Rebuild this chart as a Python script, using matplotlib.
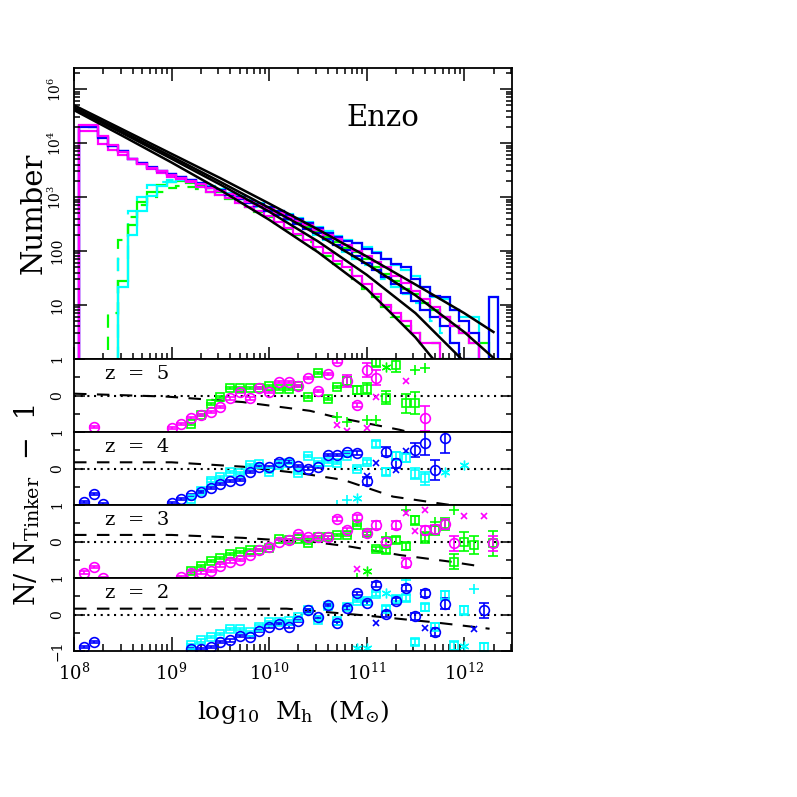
import numpy as np
import matplotlib
matplotlib.use('Agg')
import matplotlib.pyplot as plt
from matplotlib.ticker import FixedLocator, NullFormatter, FixedFormatter, LogLocator

plt.rcParams['font.family'] = ['DejaVu Serif']
plt.rcParams['mathtext.fontset'] = 'dejavuserif'

MAG, GRN, BLU, CYN = '#ff00ff', '#00ff00', '#0000ff', '#00ffff'

# ---------------- top panel data ----------------
bin_centers = [8.1, 8.2, 8.3, 8.4, 8.5, 8.6, 8.7, 8.8, 8.9, 9.0,
               9.1, 9.2, 9.3, 9.4, 9.5, 9.6, 9.7, 9.8, 9.9, 10.0,
               10.1, 10.2, 10.3, 10.4, 10.5, 10.6, 10.7, 10.8, 10.9, 11.0,
               11.1, 11.2, 11.3, 11.4, 11.5, 11.6, 11.7, 11.8, 11.9, 12.0,
               12.1, 12.2, 12.3]

hist_m3 = [22000, 22000, 13500, 9100, 6900, 5000, 4100, 3500, 3000, 2600,
           2300, 2000, 1750, 1500, 1300, 1120, 960, 820, 700, 600,
           510, 430, 360, 300, 250, 200, 165, 130, 100, 80,
           62, 50, 35, 26, 18, 13, 9, 6, 4, 3, 2, 0, 0]
hist_b4 = [21000, 20000, 12500, 8700, 7200, 5100, 4200, 3500, 3100, 2650,
           2350, 2050, 1750, 1500, 1280, 1100, 930, 790, 670, 560,
           470, 390, 320, 260, 215, 170, 130, 105, 80, 60,
           45, 33, 24, 17, 12, 8, 6, 4, 2, 1, 0, 0, 0]
hist_b2 = [20000, 19500, 13000, 8800, 7000, 5100, 4200, 3600, 3100, 2700,
           2400, 2100, 1800, 1550, 1350, 1150, 990, 850, 740, 640,
           540, 460, 390, 330, 270, 220, 180, 155, 140, 110,
           92, 70, 58, 50, 30, 22, 15, 14, 8, 5, 3, 0, 14]
hist_m5 = [16500, 16500, 9800, 7400, 6000, 5000, 4100, 3300, 2750, 2400,
           2150, 1900, 1550, 1260, 1100, 950, 780, 660, 540, 440,
           350, 270, 210, 160, 120, 90, 65, 50, 35, 24,
           16, 10, 7, 5, 3, 2, 2, 0, 0, 0, 0, 0, 0]
hist_g5 = [0, 0, 0, 7, 160, 420, 700, 1000, 1250, 1500,
           1600, 1550, 1400, 1250, 1080, 920, 780, 640, 520, 420,
           330, 255, 200, 150, 110, 82, 58, 44, 30, 20,
           14, 9, 6, 4, 3, 2, 2, 1, 0, 0, 0, 0, 0]
hist_g3 = [0, 0, 0, 0, 28, 300, 800, 1250, 1700, 1900,
           2000, 1850, 1650, 1450, 1250, 1080, 930, 800, 680, 580,
           490, 410, 340, 280, 230, 180, 145, 115, 95, 70,
           50, 38, 28, 20, 16, 11, 8, 6, 4, 3, 2, 2, 0]
hist_c4 = [0, 0, 0, 0, 70, 550, 1000, 1650, 1900, 2100,
           2050, 1900, 1650, 1450, 1250, 1070, 910, 770, 650, 550,
           460, 380, 310, 250, 200, 160, 125, 95, 72, 54,
           40, 30, 22, 16, 11, 8, 5, 3, 2, 1, 1, 0, 0]
hist_c2 = [0, 0, 0, 0, 22, 200, 550, 1050, 1600, 1900,
           2100, 2000, 1800, 1600, 1400, 1200, 1030, 880, 760, 650,
           560, 480, 410, 340, 280, 230, 190, 160, 140, 120,
           95, 72, 55, 45, 35, 22, 14, 13, 8, 6, 6, 0, 14]

tink_logm = [8.0, 8.5, 9.0, 9.5, 10.0, 10.5, 11.0, 11.5, 12.0, 12.3]
tink_z2 = [4.70, 4.25, 3.80, 3.35, 2.88, 2.40, 1.90, 1.38, 0.85, 0.50]
tink_z3 = [4.66, 4.21, 3.75, 3.28, 2.80, 2.30, 1.76, 1.18, 0.50, 0.02]
tink_z4 = [4.64, 4.18, 3.71, 3.23, 2.73, 2.18, 1.56, 0.85, -0.05, -0.6]
tink_z5 = [4.61, 4.13, 3.64, 3.13, 2.58, 1.98, 1.30, 0.40, -0.7, -1.4]

# ---------------- residual panels data ----------------
dash_x = {5: [8.0, 8.95, 9.73, 10.42, 10.66, 11.0, 11.34, 11.5],
          4: [8.0, 9.0, 9.73, 10.32, 10.76, 11.27, 11.96],
          3: [8.0, 9.0, 9.73, 10.08, 10.42, 10.83, 11.34, 11.85, 12.19],
          2: [8.0, 9.0, 10.18, 10.4, 11.0, 11.68, 12.26]}
dash_y = {5: [0.05, -0.03, -0.18, -0.42, -0.58, -0.76, -0.94, -1.05],
          4: [0.17, 0.17, 0.05, -0.13, -0.31, -0.77, -1.04],
          3: [0.18, 0.18, 0.10, 0.04, 0.0, -0.14, -0.37, -0.55, -0.69],
          2: [0.16, 0.16, 0.16, 0.11, -0.03, -0.21, -0.39]}

circ_x = {5: [8.2, 9.0, 9.1, 9.2, 9.3, 9.4, 9.5, 9.6, 9.7, 9.8, 9.9, 10.0, 10.1, 10.2,
              10.3, 10.4, 10.5, 10.6, 10.7, 10.8, 10.9, 11.0, 11.1, 11.6],
          4: [8.1, 8.2, 8.3, 9.0, 9.1, 9.2, 9.3, 9.4, 9.5, 9.6, 9.7, 9.8, 9.9, 10.0,
              10.1, 10.2, 10.3, 10.4, 10.5, 10.6, 10.7, 10.8, 10.9, 11.0, 11.2, 11.3,
              11.5, 11.6, 11.7, 11.8],
          3: [8.1, 8.2, 8.3, 9.1, 9.2, 9.3, 9.4, 9.5, 9.6, 9.7, 9.8, 9.9, 10.0, 10.1,
              10.2, 10.3, 10.4, 10.5, 10.6, 10.7, 10.8, 10.9, 11.0, 11.1, 11.2, 11.3,
              11.4, 11.6, 11.7, 11.8, 11.9, 12.3],
          2: [8.1, 8.2, 9.2, 9.3, 9.4, 9.5, 9.6, 9.7, 9.8, 9.9, 10.0, 10.1, 10.2, 10.3,
              10.4, 10.5, 10.6, 10.7, 10.8, 10.9, 11.0, 11.1, 11.2, 11.3, 11.4, 11.5,
              11.6, 11.7, 11.8, 12.2]}
circ_y = {5: [-0.87, -0.90, -0.78, -0.61, -0.53, -0.46, -0.32, -0.08, 0.09, -0.08, 0.20,
              0.10, 0.36, 0.36, 0.27, 0.49, 0.12, 0.58, 0.95, 0.40, -0.26, 0.70, 0.49, -0.63],
          4: [-0.91, -0.70, -0.97, -0.94, -0.84, -0.73, -0.64, -0.54, -0.42, -0.34, -0.32,
              -0.09, 0.05, 0.05, 0.19, 0.19, 0.07, 0.0, 0.05, 0.37, 0.37, 0.46, 0.43, -0.34,
              0.46, 0.14, 0.51, 0.69, -0.04, 0.83],
          3: [-0.85, -0.69, -1.0, -0.98, -0.85, -0.85, -0.81, -0.66, -0.55, -0.51, -0.37,
              -0.23, -0.14, 0.0, 0.03, 0.20, 0.13, 0.11, 0.11, 0.62, 0.32, 0.66, 0.22, 0.45,
              0.0, 0.45, -0.58, 0.31, 0.33, 0.48, -0.05, -0.05],
          2: [-0.90, -0.76, -0.94, -0.94, -0.89, -0.76, -0.71, -0.58, -0.62, -0.46, -0.33,
              -0.26, -0.33, -0.18, 0.11, -0.07, 0.25, -0.24, 0.18, 0.58, 0.31, 0.82, 0.02,
              0.38, 0.73, -0.05, 0.58, -0.48, 0.29, 0.11]}
circ_e = {5: [0.03] * 18 + [0.05, 0.16, 0.06, 0.18, 0.20, 0.33],
          4: [0.03] * 22 + [0.05, 0.1, 0.12, 0.12, 0.2, 0.33, 0.27, 0.4],
          3: [0.03] * 19 + [0.05, 0.06, 0.07, 0.08, 0.1, 0.1, 0.1, 0.12, 0.12, 0.12,
                            0.15, 0.2, 0.2],
          2: [0.03] * 17 + [0.04, 0.05, 0.05, 0.06, 0.07, 0.08, 0.08, 0.09, 0.1, 0.1,
                            0.12, 0.15, 0.2]}

sq_x = {5: [9.2, 9.3, 9.4, 9.5, 9.6, 9.7, 9.8, 9.9, 10.0, 10.1, 10.2, 10.3, 10.4, 10.5,
            10.6, 10.7, 10.8, 10.9, 11.0, 11.1, 11.2, 11.3, 11.4, 11.5],
        4: [9.2, 9.3, 9.4, 9.5, 9.6, 9.7, 9.8, 9.9, 10.0, 10.1, 10.2, 10.3, 10.4, 10.5,
            10.6, 10.7, 10.8, 10.9, 11.0, 11.1, 11.2, 11.3, 11.4, 11.5, 11.6],
        3: [9.2, 9.3, 9.4, 9.5, 9.6, 9.7, 9.8, 9.9, 10.0, 10.1, 10.2, 10.3, 10.4, 10.5,
            10.6, 10.7, 10.8, 10.9, 11.0, 11.1, 11.2, 11.3, 11.4, 11.5, 11.6, 11.7, 11.8,
            11.9, 12.0, 12.1, 12.3],
        2: [9.2, 9.3, 9.4, 9.5, 9.6, 9.7, 9.8, 9.9, 10.0, 10.1, 10.2, 10.3, 10.4, 10.5,
            10.6, 10.7, 10.8, 10.9, 11.0, 11.1, 11.2, 11.3, 11.4, 11.5, 11.6, 11.7, 11.8,
            11.9, 12.0, 12.2]}
sq_y = {5: [-0.78, -0.53, -0.24, -0.05, 0.20, 0.21, 0.21, 0.20, 0.25, 0.17, 0.17, 0.25,
            -0.03, 0.61, -0.10, 0.24, 0.40, 0.15, 0.18, 0.93, -0.06, 0.84, -0.21, -0.21],
        4: [-0.84, -0.62, -0.33, -0.24, -0.10, -0.12, 0.10, 0.12, -0.09, 0.10, 0.14, -0.12,
            0.34, 0.18, 0.18, 0.15, 0.34, 0.0, 0.18, 0.66, -0.09, 0.34, 0.30, -0.14, -0.27],
        3: [-0.81, -0.68, -0.53, -0.46, -0.34, -0.28, -0.23, -0.23, -0.18, 0.06, 0.03,
            0.06, -0.05, 0.13, 0.11, 0.17, 0.17, 0.45, 0.22, -0.20, -0.24, 0.03, -0.13,
            0.58, 0.11, 0.31, 0.48, -0.55, 0.0, -0.09, -0.05],
        2: [-0.83, -0.71, -0.62, -0.53, -0.40, -0.40, -0.49, -0.33, -0.21, -0.21, -0.18,
            -0.07, 0.11, -0.15, 0.22, -0.18, 0.20, 0.38, 0.38, 0.56, 0.16, 0.43, 0.45,
            -0.76, 0.20, -0.33, 0.53, -0.85, 0.11, -0.90]}
sq_e = {5: [0.03] * 16 + [0.1, 0.12, 0.15, 0.15, 0.17, 0.2, 0.26, 0.3],
        4: [0.03] * 18 + [0.06, 0.08, 0.1, 0.1, 0.12, 0.15, 0.18],
        3: [0.03] * 18 + [0.05, 0.06, 0.07, 0.08, 0.1, 0.12, 0.15, 0.12, 0.17, 0.2,
                          0.27, 0.25, 0.35],
        2: [0.03] * 18 + [0.05, 0.06, 0.06, 0.07, 0.08, 0.08, 0.1, 0.1, 0.12, 0.12,
                          0.12, 0.12]}

plus_x = {5: [10.7, 10.8, 11.0, 11.1, 11.5, 11.6], 4: [10.7, 10.8],
          3: [10.9, 11.2, 11.4, 11.7, 11.9], 2: [11.4, 12.1]}
plus_y = {5: [-0.58, -0.72, -0.68, -0.68, 0.70, 0.74], 4: [-1.0, -0.85],
          3: [-0.99, 0.11, 0.85, 0.53, 0.85], 2: [0.95, 0.71]}
cross_x = {5: [10.7, 10.8, 11.0, 11.1, 11.4], 4: [11.0, 11.1, 11.3, 11.4],
           3: [10.9, 11.4, 11.5, 11.6, 12.0, 12.2], 2: [11.1, 11.6, 12.1]}
cross_y = {5: [-0.81, -0.97, -0.88, -0.03, 0.40], 4: [-0.2, 0.15, -0.05, 0.47],
           3: [-0.74, 0.78, 0.29, 0.85, 0.70, 0.70], 2: [-0.22, -0.38, -0.40]}
star_x = {5: [11.2], 4: [10.9, 11.8, 12.0], 3: [11.0], 2: [10.9, 11.0, 11.2, 12.0]}
star_y = {5: [0.79], 4: [-0.80, -0.10, 0.10], 3: [-0.80], 2: [-0.92, -0.92, 0.58, -0.85]}

panel_z = [5, 4, 3, 2]
circ_col = {5: MAG, 4: BLU, 3: MAG, 2: BLU}
sq_col = {5: GRN, 4: CYN, 3: GRN, 2: CYN}

x_tick_pos = [8, 9, 10, 11, 12]
x_tick_lab = [r'$10^{8}$', r'$10^{9}$', r'$10^{10}$', r'$10^{11}$', r'$10^{12}$']
y_tick_lab = ['1', '10', '100', r'$10^{3}$', r'$10^{4}$', r'$10^{6}$']

# ---------------- figure ----------------
fig = plt.figure(figsize=(7.97, 7.97), dpi=100)
PX = 797.0
L, W = 74 / PX, 438 / PX


def fy(p):
    return 1 - p / PX


xlo, xhi = 1e8, 10 ** 12.49
ax = fig.add_axes([L, fy(359), W, fy(68) - fy(359)])
ax.set_xscale('log')
ax.set_yscale('log')
ax.set_xlim(xlo, xhi)
ax.set_ylim(1, 10 ** 5.39)

edges = 10 ** np.concatenate([[bin_centers[0] - 0.05], np.array(bin_centers) + 0.05])


def hist(vals, col, ls='-'):
    v = np.array(vals, dtype=float)
    v[v <= 0] = 1e-3
    ax.stairs(v, edges, baseline=1e-3, color=col, lw=1.6, ls=ls)


hist(hist_g5, GRN, (0, (6, 4)))
hist(hist_c4, CYN, (0, (6, 4)))
hist(hist_g3, GRN)
hist(hist_c2, CYN)
hist(hist_m5, MAG)
hist(hist_b4, BLU)
hist(hist_b2, BLU)
hist(hist_m3, MAG)

tm = 10 ** np.array(tink_logm)
for t in (tink_z2, tink_z3, tink_z4, tink_z5):
    ax.plot(tm, 10 ** np.array(t), color='black', lw=1.8)

ax.text(10 ** 11.17, 10 ** 4.46, 'Enzo', fontsize=21, ha='center', va='center')

ax.tick_params(which='both', direction='in', top=True, right=True, width=1.1)
ax.tick_params(which='major', length=9)
ax.tick_params(which='minor', length=4.5)
ax.xaxis.set_major_locator(FixedLocator([10.0 ** k for k in x_tick_pos]))
ax.xaxis.set_minor_locator(LogLocator(base=10, subs=np.arange(2, 10)))
ax.xaxis.set_major_formatter(NullFormatter())
ax.xaxis.set_minor_formatter(NullFormatter())
ax.yaxis.set_major_locator(FixedLocator([1, 10, 100, 1e3, 1e4, 1e5]))
ax.yaxis.set_minor_locator(LogLocator(base=10, subs=np.arange(2, 10)))
ax.yaxis.set_major_formatter(FixedFormatter(y_tick_lab))
ax.yaxis.set_minor_formatter(NullFormatter())
for lab in ax.get_yticklabels():
    lab.set_rotation(90)
    lab.set_va('center')
ax.tick_params(axis='y', labelsize=10, pad=7)
for s in ax.spines.values():
    s.set_linewidth(1.3)

# residual panels
tops = [359, 432, 505, 578]
for i, z in enumerate(panel_z):
    a = fig.add_axes([L, fy(tops[i] + 73), W, 73 / PX])
    a.set_xscale('log')
    a.set_xlim(xlo, xhi)
    a.set_ylim(-1, 1)
    a.axhline(0, color='black', ls=(0, (1, 2.2)), lw=1.5)
    a.plot(10 ** np.array(dash_x[z]), dash_y[z], color='black', ls=(0, (6, 5)), lw=1.5)
    a.errorbar(10 ** np.array(sq_x[z]), sq_y[z], yerr=sq_e[z], fmt='s', mfc='none',
               mec=sq_col[z], ecolor=sq_col[z], ms=5.5, mew=1.2, elinewidth=1.2,
               capsize=3.5, capthick=1.2)
    a.errorbar(10 ** np.array(circ_x[z]), circ_y[z], yerr=circ_e[z], fmt='o', mfc='none',
               mec=circ_col[z], ecolor=circ_col[z], ms=7, mew=1.2, elinewidth=1.2,
               capsize=3.5, capthick=1.2)
    a.plot(10 ** np.array(plus_x[z]), plus_y[z], '+', color=sq_col[z], ms=7, mew=1.2)
    a.plot(10 ** np.array(cross_x[z]), cross_y[z], 'x', color=circ_col[z], ms=5, mew=1.2)
    a.plot(10 ** np.array(star_x[z]), star_y[z], marker=(6, 2, 0), ls='none',
           color=sq_col[z], ms=7, mew=1.0)
    a.text(0.07, 0.80, 'z  =  %d' % z, transform=a.transAxes, fontsize=14,
           ha='left', va='center')
    a.tick_params(which='both', direction='in', right=True, width=1.1)
    a.tick_params(which='major', length=8)
    a.tick_params(which='minor', length=4)
    a.yaxis.set_major_locator(FixedLocator([-1, 0, 1]))
    a.yaxis.set_minor_locator(FixedLocator([-0.5, 0.5]))
    if z == 5:
        ylab = ['', '0', '']
    elif z == 2:
        ylab = ['\u22121', '0', '1']
    else:
        ylab = ['', '0', '1']
    a.yaxis.set_major_formatter(FixedFormatter(ylab))
    for lab in a.get_yticklabels():
        lab.set_rotation(90)
        lab.set_va('center')
    a.tick_params(axis='y', labelsize=10, pad=7)
    a.xaxis.set_major_locator(FixedLocator([10.0 ** k for k in x_tick_pos]))
    a.xaxis.set_minor_locator(LogLocator(base=10, subs=np.arange(2, 10)))
    a.xaxis.set_minor_formatter(NullFormatter())
    if z == 2:
        a.xaxis.set_major_formatter(FixedFormatter(x_tick_lab))
        a.tick_params(axis='x', which='both', bottom=True, top=False, labelsize=13, pad=8)
        a.tick_params(axis='x', which='major', length=10)
        a.tick_params(axis='x', which='minor', length=5)
    else:
        a.xaxis.set_major_formatter(NullFormatter())
        a.tick_params(axis='x', which='both', bottom=False, top=False)
    for s in a.spines.values():
        s.set_linewidth(1.3)

fig.text(33.5 / PX, fy(213), 'Number', rotation=90, fontsize=21, ha='center', va='center')
fig.text(27 / PX, fy(505), r'N/ N$_{\mathrm{Tinker}}$  $-$  1', rotation=90, fontsize=19.5,
         ha='center', va='center')
fig.text((74 + 219) / PX, fy(712), r'log$_{10}$  M$_{\mathrm{h}}$  (M$_{\odot}$)',
         fontsize=18, ha='center', va='center')

fig.savefig('out.png', dpi=100)
